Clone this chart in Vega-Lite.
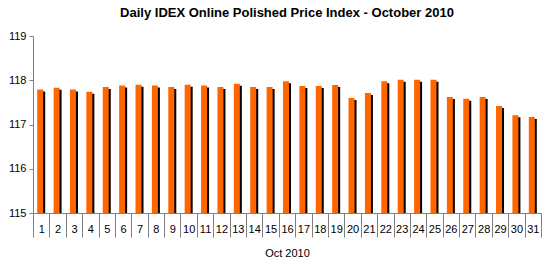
{
  "$schema": "https://vega.github.io/schema/vega-lite/v6.json",
  "width": 508,
  "height": 177,
  "autosize": {"type": "none"},
  "padding": {"left": 33, "top": 36, "right": 3, "bottom": 49},
  "background": "white",
  "title": {
    "text": "Daily IDEX Online Polished Price Index - October 2010",
    "font": "Liberation Sans",
    "fontSize": 13,
    "fontWeight": "bold",
    "color": "#000000",
    "anchor": "middle",
    "offset": 10
  },
  "config": {
    "view": {"stroke": null},
    "font": "Liberation Sans"
  },
  "data": {
    "values": [
      {"day": "1", "index": 117.79},
      {"day": "2", "index": 117.83},
      {"day": "3", "index": 117.79},
      {"day": "4", "index": 117.74},
      {"day": "5", "index": 117.85},
      {"day": "6", "index": 117.88},
      {"day": "7", "index": 117.90},
      {"day": "8", "index": 117.88},
      {"day": "9", "index": 117.85},
      {"day": "10", "index": 117.90},
      {"day": "11", "index": 117.88},
      {"day": "12", "index": 117.85},
      {"day": "13", "index": 117.92},
      {"day": "14", "index": 117.85},
      {"day": "15", "index": 117.85},
      {"day": "16", "index": 117.98},
      {"day": "17", "index": 117.87},
      {"day": "18", "index": 117.87},
      {"day": "19", "index": 117.89},
      {"day": "20", "index": 117.60},
      {"day": "21", "index": 117.71},
      {"day": "22", "index": 117.98},
      {"day": "23", "index": 118.01},
      {"day": "24", "index": 118.01},
      {"day": "25", "index": 118.01},
      {"day": "26", "index": 117.62},
      {"day": "27", "index": 117.58},
      {"day": "28", "index": 117.62},
      {"day": "29", "index": 117.42},
      {"day": "30", "index": 117.21},
      {"day": "31", "index": 117.17}
    ]
  },
  "encoding": {
    "x": {
      "field": "day",
      "type": "ordinal",
      "sort": null,
      "scale": {"paddingInner": 0, "paddingOuter": 0},
      "axis": {
        "title": "Oct 2010",
        "titleFont": "Liberation Sans",
        "titleFontSize": 11,
        "titleFontWeight": "normal",
        "titleColor": "#000000",
        "titlePadding": 10,
        "labelAngle": 0,
        "labelFontSize": 11,
        "labelColor": "#000000",
        "labelPadding": -14,
        "tickBand": "extent",
        "tickSize": 24,
        "tickColor": "#808080",
        "domainColor": "#808080",
        "grid": false
      }
    },
    "y": {
      "field": "index",
      "type": "quantitative",
      "scale": {"domain": [115, 119], "zero": false, "nice": false},
      "axis": {
        "title": null,
        "values": [115, 116, 117, 118, 119],
        "labelFontSize": 11,
        "labelColor": "#000000",
        "labelPadding": 3,
        "tickSize": 4,
        "tickColor": "#808080",
        "domainColor": "#808080",
        "grid": false
      }
    }
  },
  "layer": [
    {
      "mark": {"type": "bar", "color": "#000000", "size": 6, "xOffset": 1, "yOffset": 2, "clip": true}
    },
    {
      "mark": {"type": "bar", "color": "#FF6600", "size": 6, "xOffset": -1, "clip": true}
    }
  ]
}
